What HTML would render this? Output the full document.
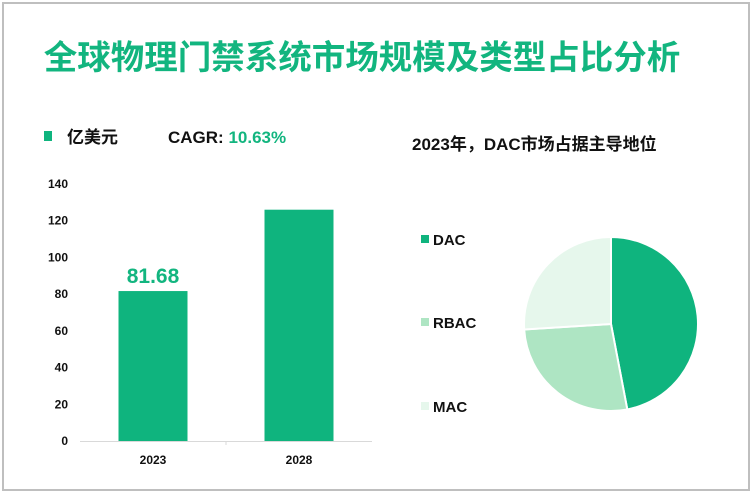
<!DOCTYPE html>
<html><head><meta charset="utf-8">
<style>
html,body{margin:0;padding:0;background:#fff;}
body{width:752px;height:493px;overflow:hidden;position:relative;font-family:"Liberation Sans","Noto Sans CJK SC",sans-serif;}
.frame{position:absolute;left:2px;top:2px;width:744px;height:485px;border:2px solid #bfbfbf;}
</style></head>
<body>
<div class="frame"></div>
<svg width="752" height="493" style="position:absolute;left:0;top:0">
<text x="362" y="69" text-anchor="middle" font-size="33.5" font-weight="bold" fill="#12b57f" font-family="Liberation Sans, Noto Sans CJK SC, sans-serif">全球物理门禁系统市场规模及类型占比分析</text>
<rect x="44" y="131" width="8" height="10" fill="#0fb47e"/>
<text x="67" y="143" font-size="17" font-weight="bold" fill="#111" font-family="Liberation Sans, Noto Sans CJK SC, sans-serif">亿美元</text>
<text x="168" y="143" font-size="17" font-weight="bold" fill="#111">CAGR: <tspan fill="#12b57f">10.63%</tspan></text>
<text x="412" y="150" font-size="17" font-weight="bold" fill="#111" font-family="Liberation Sans, Noto Sans CJK SC, sans-serif">2023年，DAC市场占据主导地位</text>
<g id="bars"></g>
<g id="pie"></g>
</svg>
<script>
const categories = ["2023","2028"];
const values = [81.68, 126];
const valueLabels = ["81.68", ""];
const yTicks = [0,20,40,60,80,100,120,140];
const pieLabels = ["DAC","RBAC","MAC"];
const pieValues = [47, 27, 26];
const pieColors = ["#0fb47e","#aee5c3","#e6f7ec"];

const NS="http://www.w3.org/2000/svg";
function mk(tag,attrs,parent){const e=document.createElementNS(NS,tag);for(const k in attrs)e.setAttribute(k,attrs[k]);parent.appendChild(e);return e;}
const bars=document.getElementById('bars');
const y0=441, pxPer=(441-184)/140;
const yScale=v=>y0-v*pxPer;
const xLeft=80, xRight=372, band=(xRight-xLeft)/categories.length, bw=69;
const xCenter=i=>xLeft+band*(i+0.5);

yTicks.forEach(t=>{
  const e=mk('text',{x:68,y:yScale(t)+4,'text-anchor':'end','font-size':12,'font-weight':'bold',fill:'#111'},bars);
  e.textContent=t;
  
  
});
const ax=mk('line',{x1:xLeft,y1:y0+0.5,x2:xRight,y2:y0+0.5,stroke:'#d9d9d9','stroke-width':1},bars);


categories.forEach((c,i)=>{
  const r=mk('rect',{x:xCenter(i)-bw/2,y:yScale(values[i]),width:bw,height:y0-yScale(values[i]),fill:'#0fb47e'},bars);
  
  
  const t=mk('text',{x:xCenter(i),y:y0+23,'text-anchor':'middle','font-size':12,'font-weight':'bold',fill:'#111'},bars);
  t.textContent=c;
  
  
  if(valueLabels[i]){
    const l=mk('text',{x:xCenter(i),y:yScale(values[i])-8,'text-anchor':'middle','font-size':21,'font-weight':'bold',fill:'#12b57f'},bars);
    l.textContent=valueLabels[i];
    
    
  }
});
const tk=mk('line',{x1:xLeft+band,y1:y0,x2:xLeft+band,y2:y0+4,stroke:'#d9d9d9'},bars);



const pie=document.getElementById('pie');
const cx=611, cy=324, R=87;
const total=pieValues.reduce((a,b)=>a+b,0);
let a=0;
pieValues.forEach((v,i)=>{
  const a1=a+v/total*2*Math.PI;
  const p=(ang)=>[cx+R*Math.sin(ang), cy-R*Math.cos(ang)];
  const [x0,y0p]=p(a),[x1,y1]=p(a1);
  const large=(a1-a)>Math.PI?1:0;
  const s=mk('path',{d:`M${cx},${cy} L${x0},${y0p} A${R},${R} 0 ${large} 1 ${x1},${y1} Z`,fill:pieColors[i],stroke:'#fff','stroke-width':2},pie);
  
  
  a=a1;
  const ly=[240,323,407][i];
  const sw=mk('rect',{x:421,y:ly-5,width:8,height:8,fill:pieColors[i]},pie);
  
  
  const lt=mk('text',{x:433,y:ly+5,'font-size':15,'font-weight':'bold',fill:'#111'},pie);
  lt.textContent=pieLabels[i];
  
  
});
</script>
</body></html>
